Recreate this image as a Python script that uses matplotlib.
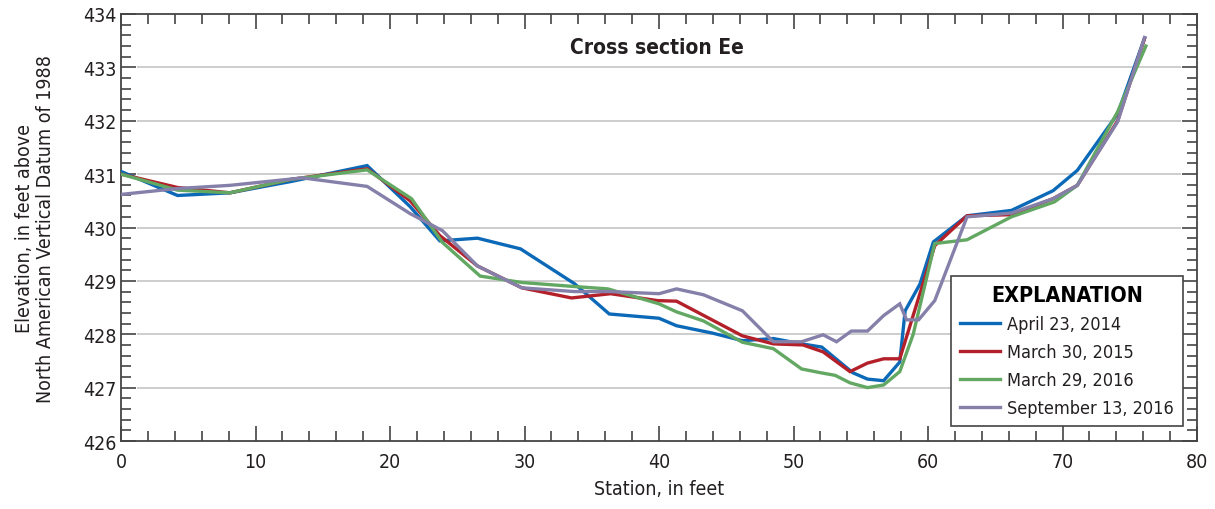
import numpy as np
import matplotlib
matplotlib.use("Agg")
import matplotlib.pyplot as plt
from matplotlib.ticker import MultipleLocator

plt.rcParams["font.family"] = ["DejaVu Sans"]
plt.rcParams["font.stretch"] = "condensed"

# April 23, 2014
x_2014 = [0, 4.2, 8.1, 12.6, 18.3, 21.5, 23.7, 26.5, 29.7, 33.7, 36.3, 40.0, 41.3,
          44.0, 46.2, 48.5, 50.6, 52.1, 54.4, 55.5, 56.7, 57.9, 58.3, 59.4, 60.4,
          62.9, 66.2, 69.3, 71.1, 74.1, 76.1]
y_2014 = [431.05, 430.6, 430.65, 430.86, 431.16, 430.39, 429.75, 429.8, 429.6, 428.95,
          428.38, 428.3, 428.16, 428.02, 427.88, 427.92, 427.82, 427.76, 427.28, 427.16,
          427.13, 427.48, 428.44, 428.94, 429.73, 430.22, 430.32, 430.69, 431.07, 432.13,
          433.55]

# March 30, 2015
x_2015 = [0, 4.2, 8.1, 12.6, 18.3, 21.5, 23.7, 26.5, 29.8, 33.5, 36.4, 39.9, 41.3,
          46.2, 48.5, 50.7, 52.2, 54.2, 55.5, 56.7, 57.9, 60.5, 62.9, 66.2, 69.3,
          71.1, 74.1, 76.1]
y_2015 = [431.0, 430.75, 430.65, 430.9, 431.1, 430.5, 429.85, 429.28, 428.87, 428.68,
          428.76, 428.63, 428.62, 427.97, 427.82, 427.8, 427.67, 427.3, 427.46, 427.54,
          427.54, 429.66, 430.22, 430.24, 430.54, 430.79, 432.0, 433.54]

# March 29, 2016
x_2016a = [0, 4.2, 8.1, 12.6, 18.3, 21.6, 23.9, 26.7, 29.8, 33.4, 36.2, 40.0, 41.3,
           43.3, 46.2, 48.5, 50.6, 52.0, 53.1, 54.2, 55.5, 56.7, 57.9, 58.9, 60.5,
           62.9, 66.2, 69.4, 71.1, 74.1, 76.2]
y_2016a = [431.0, 430.7, 430.65, 430.9, 431.08, 430.54, 429.72, 429.09, 428.97, 428.9,
           428.85, 428.57, 428.42, 428.25, 427.85, 427.73, 427.35, 427.28, 427.23, 427.09,
           427.0, 427.05, 427.3, 428.0, 429.7, 429.77, 430.2, 430.48, 430.79, 432.17,
           433.4]

# September 13, 2016
x_2016b = [0, 4.2, 8.1, 13.5, 18.3, 21.5, 23.9, 26.5, 29.8, 33.7, 36.3, 40.0, 41.3,
           43.3, 46.2, 48.5, 50.6, 52.2, 53.2, 54.3, 55.5, 56.7, 57.9, 58.4, 59.3,
           60.5, 62.9, 66.2, 69.3, 71.1, 74.1, 76.1]
y_2016b = [430.62, 430.73, 430.79, 430.93, 430.77, 430.26, 429.94, 429.28, 428.87, 428.8,
           428.8, 428.76, 428.85, 428.74, 428.44, 427.86, 427.86, 427.99, 427.86, 428.06,
           428.06, 428.35, 428.57, 428.27, 428.27, 428.63, 430.2, 430.27, 430.54, 430.79,
           431.98, 433.56]

series = [
    (x_2014, y_2014, "April 23, 2014", "#0b69b7"),
    (x_2015, y_2015, "March 30, 2015", "#b3202a"),
    (x_2016a, y_2016a, "March 29, 2016", "#62a862"),
    (x_2016b, y_2016b, "September 13, 2016", "#8580a9"),
]

fig = plt.figure(figsize=(12.15, 5.1), dpi=100)
ax = fig.add_axes([0.0996, 0.1333, 0.8856, 0.8373])

# horizontal grid, stops short of the frame
ax.hlines(np.arange(427, 434), 1.2, 78.8, color="#c9c9c9", linewidth=1.3, zorder=1)

for xs, ys, label, color in series:
    ax.plot(xs, ys, color=color, linewidth=2.4, label=label, zorder=3,
            solid_joinstyle="miter")

ax.set_xlim(0, 80)
ax.set_ylim(426, 434)
ax.xaxis.set_major_locator(MultipleLocator(10))
ax.xaxis.set_minor_locator(MultipleLocator(2))
ax.yaxis.set_major_locator(MultipleLocator(1))
ax.yaxis.set_minor_locator(MultipleLocator(0.2))
ax.tick_params(which="both", direction="in", top=True, right=True,
               color="#444444", width=1.2, labelsize=14, labelcolor="#231f20")
ax.tick_params(which="major", length=11)
ax.tick_params(which="minor", length=7)
ax.tick_params(axis="x", pad=8)
for s in ax.spines.values():
    s.set_color("#444444")
    s.set_linewidth(1.3)

ax.set_xlabel("Station, in feet", fontsize=14, color="#231f20", labelpad=6)
ax.set_ylabel("Elevation, in feet above\nNorth American Vertical Datum of 1988",
              fontsize=14, color="#231f20", labelpad=20, linespacing=1.1)
ax.text(0.498, 0.923, "Cross section Ee", transform=ax.transAxes, ha="center",
        va="center", fontsize=15, fontweight="bold", color="#231f20")

leg = ax.legend(loc="lower right", bbox_to_anchor=(0.987, 0.035), borderaxespad=0,
                title="EXPLANATION", fontsize=13, frameon=True, fancybox=False,
                handlelength=2.2, handletextpad=0.4, borderpad=0.5,
                labelspacing=0.55)
leg.get_title().set_fontweight("bold")
leg.get_title().set_fontsize(15.5)
leg.get_frame().set_edgecolor("#444444")
leg.get_frame().set_linewidth(1.2)
leg.get_frame().set_alpha(1)
for t in leg.get_texts():
    t.set_color("#231f20")
leg.set_zorder(5)

fig.savefig("out.png", dpi=100)
